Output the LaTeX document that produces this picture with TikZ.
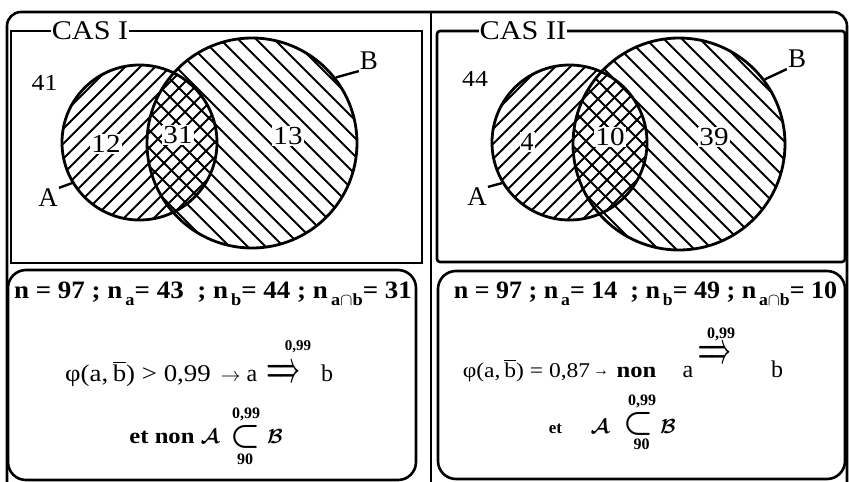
\documentclass[tikz,border=0pt]{standalone}
\usepackage{fontspec}
\setmainfont{Liberation Serif}
\usepackage{graphicx}
\newcommand{\fs}[1]{\fontsize{#1}{#1}\selectfont}
\newcommand{\wide}[1]{\scalebox{1.12}[1]{#1}}
\newcommand{\sbx}[1]{\raisebox{-0.28em}{\fs{17}\,#1}}
\newcommand{\bbar}{\vbox{\hrule height 1.1pt\kern 1.6pt\hbox{b}}}
\newcommand{\dimpl}{\resizebox{33pt}{16pt}{\boldmath$\Longrightarrow$}}
\newcommand{\dincl}{\resizebox{30pt}{20pt}{\boldmath$\subset$}}
\newcommand{\rarr}{\resizebox{20pt}{!}{$\rightarrow$}}
\newcommand{\calA}{\resizebox{!}{14pt}{\boldmath$\mathcal{A}$}}
\newcommand{\calB}{\resizebox{!}{14pt}{\boldmath$\mathcal{B}$}}
\begin{document}
\begin{tikzpicture}[x=1pt,y=-1pt,
  frame/.style={line width=2.6pt},
  venn/.style={circle, draw, line width=2.8pt, inner sep=0pt},
  hatch/.style={line width=1.8pt},
  num/.style={font=\fs{26}, fill=white, inner sep=1pt},
  outnum/.style={font=\fs{23}, inner sep=1pt},
  setlbl/.style={font=\fs{27}, inner sep=1pt},
  title/.style={font=\fs{27}, fill=white, inner sep=1pt},
  lbox/.style={line width=2.6pt, rounded corners=18pt},
  txt/.style={inner sep=0pt, anchor=base},
  sym/.style={inner sep=0pt}]
\useasboundingbox (0,0) rectangle (849,482);

% outer frame and divider
\draw[frame, rounded corners=14pt] (7,482) -- (7,12) -- (847,12) -- (847,482);
\coordinate (dt) at (431,12);
\coordinate (db) at (431,482);
\draw[frame] (dt) -- (db);

% ---------------- CAS I ----------------
\draw[frame] (11,31) rectangle (422,263);
\begin{scope}
  \clip (139.5,142.5) circle[radius=77.5pt];
  \foreach \k in {-12,...,12}
    \draw[hatch] ({139.5+\k*15-130},{142.5+130}) -- ({139.5+\k*15+130},{142.5-130});
\end{scope}
\begin{scope}
  \clip (252,143) circle[radius=105pt];
  \foreach \k in {-14,...,14}
    \draw[hatch] ({252+\k*18-160},{143-160}) -- ({252+\k*18+160},{143+160});
\end{scope}
\node[num] (n12) at (106,144) {\wide{12}};
\node[num] (n31) at (178,135) {\wide{31}};
\node[num] (n13) at (288,136) {\wide{13}};
\node[venn, minimum size=155pt] (A1) at (139.5,142.5) {};
\node[venn, minimum size=210pt] (B1) at (252,143) {};
\node[outnum] (n41) at (44.5,82.5) {\wide{41}};
\node[setlbl] (lA1) at (48,198) {A};
\node[setlbl] (lB1) at (369,61) {B};
\draw[line width=2.4pt] (lA1.north east) -- (A1.211);
\draw[line width=2.4pt] (B1.38) -- (lB1.south west);
\node[title] (t1) at (90,31) {\wide{CAS I}};

\draw[lbox] (8,270) rectangle (416,480);
\node[txt, font=\fs{25}\bfseries] (l11) at (213,298)
  {\scalebox{1.08}[1]{n = 97 ; n\sbx{a}= 43 \ ; n\sbx{b}= 44 ; n\sbx{a$\cap$b}= 31}};
% line 2
\node[txt, font=\fs{24}] (l12a) at (138,381) {\wide{φ(a,\,\bbar) > 0,99}};
\node[txt, font=\fs{24}] (l12b) at (239,381) {\rarr\ a};
\node[sym] (l12c) at (283,373) {\dimpl};
\node[txt, font=\fs{15}\bfseries] (l12d) at (298,350) {0,99};
\node[txt, font=\fs{24}] (l12e) at (327,381) {b};
% line 3
\node[txt, font=\fs{22}\bfseries] (l13a) at (162,443) {\wide{et non}};
\node[txt] (l13b) at (210,443) {\calA};
\node[sym] (l13c) at (245,437) {\dincl};
\node[txt] (l13d) at (275,443) {\calB};
\node[txt, font=\fs{16}\bfseries] (l13e) at (246,418) {0,99};
\node[txt, font=\fs{16}\bfseries] (l13f) at (245,464) {90};

% ---------------- CAS II ----------------
\draw[frame, rounded corners=3pt] (437,31) rectangle (845,262);
\begin{scope}
  \clip (569.5,142.5) circle[radius=77.5pt];
  \foreach \k in {-12,...,12}
    \draw[hatch] ({569.5+\k*15-130},{142.5+130}) -- ({569.5+\k*15+130},{142.5-130});
\end{scope}
\begin{scope}
  \clip (679,144) circle[radius=106pt];
  \foreach \k in {-14,...,14}
    \draw[hatch] ({679+\k*18-160},{144-160}) -- ({679+\k*18+160},{144+160});
\end{scope}
\node[num] (n4) at (527,142) {4};
\node[num] (n10) at (610,137) {\wide{10}};
\node[num] (n39) at (714,137) {\wide{39}};
\node[venn, minimum size=155pt] (A2) at (569.5,142.5) {};
\node[venn, minimum size=212pt] (B2) at (679,144) {};
\node[outnum] (n44) at (475,79) {\wide{44}};
\node[setlbl] (lA2) at (477,197) {A};
\node[setlbl] (lB2) at (797,59) {B};
\draw[line width=2.4pt] (lA2.north east) -- (A2.211);
\draw[line width=2.4pt] (B2.37) -- (lB2.south west);
\node[title] (t2) at (523,31) {\wide{CAS II}};

\draw[lbox] (438,271) rectangle (845,479);
\node[txt, font=\fs{25}\bfseries] (l21) at (645.5,298)
  {\scalebox{1.04}[1]{n = 97 ; n\sbx{a}= 14 \ ; n\sbx{b}= 49 ; n\sbx{a$\cap$b}= 10}};
% line 2
\node[txt, font=\fs{21}] (l22a) at (526.5,377) {\wide{φ(a,\,\bbar) = 0,87}};
\node[txt, font=\fs{16}] (l22b) at (601,375) {→};
\node[txt, font=\fs{22}\bfseries] (l22c) at (636.5,377) {\wide{non}};
\node[txt, font=\fs{24}] (l22d) at (688,377) {a};
\node[sym] (l22e) at (714.5,354) {\dimpl};
\node[txt, font=\fs{16}\bfseries] (l22f) at (721,338) {0,99};
\node[txt, font=\fs{24}] (l22g) at (777,377) {b};
% line 3
\node[txt, font=\fs{17}\bfseries] (l23a) at (555.5,433) {et};
\node[txt] (l23b) at (600,433) {\calA};
\node[sym] (l23c) at (638,424) {\dincl};
\node[txt] (l23d) at (668,433) {\calB};
\node[txt, font=\fs{16}\bfseries] (l23e) at (642,405) {0,99};
\node[txt, font=\fs{16}\bfseries] (l23f) at (641.5,449) {90};
\end{tikzpicture}
\end{document}
